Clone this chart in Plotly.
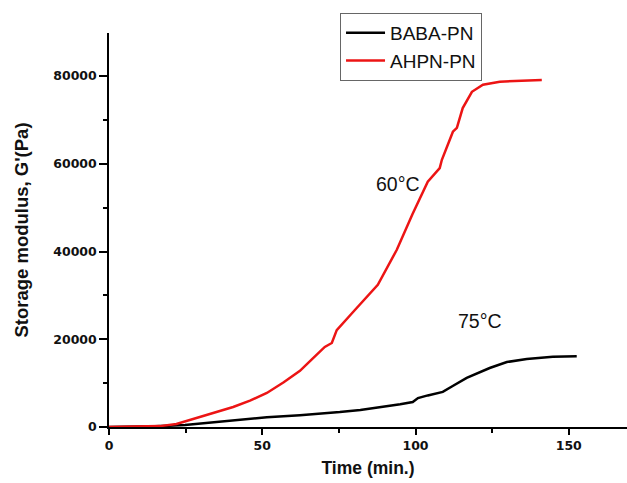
import plotly.graph_objects as go

# AHPN-PN (60°C)
ahpn_t = [0, 10, 16.6, 22, 29.7, 35, 40.5, 46, 51.5, 57, 62.3, 66, 70.4, 72.7, 74.3, 80, 87.7, 93.9, 99, 104, 107.9, 108.6, 109.6, 112.2, 113.5, 115.4, 118.4, 122, 127.5, 134, 141.2]
ahpn_g = [0, 50, 200, 700, 2280, 3300, 4560, 6000, 7750, 10200, 12800, 15300, 18240, 19150, 22100, 26500, 32400, 40400, 48500, 55900, 59000, 60900, 62700, 67300, 68200, 72700, 76400, 78000, 78700, 78900, 79100]

# BABA-PN (75°C)
baba_t = [0, 15, 24.8, 33, 40.5, 51.5, 62.3, 68.8, 75.3, 82, 89.3, 95, 99.1, 100.8, 104, 108.9, 112, 116.7, 124.2, 129.8, 136.3, 144.8, 152.6]
baba_g = [0, 150, 450, 1000, 1600, 2200, 2700, 3000, 3400, 3900, 4560, 5200, 5700, 6600, 7200, 8000, 9300, 11200, 13450, 14800, 15500, 16000, 16100]

x_ticks = [0, 50, 100, 150]
y_ticks = [0, 20000, 40000, 60000, 80000]

FONT = "Liberation Sans, Arial"
TICKFONT = "DejaVu Sans, Verdana"

fig = go.Figure()
fig.add_trace(go.Scatter(x=baba_t, y=baba_g, mode="lines", name="BABA-PN",
                         line=dict(color="black", width=2.5)))
fig.add_trace(go.Scatter(x=ahpn_t, y=ahpn_g, mode="lines", name="AHPN-PN",
                         line=dict(color="#ec1414", width=2.5)))

fig.add_annotation(x=94.2, y=55400, text="60°C", showarrow=False,
                   font=dict(family=FONT, size=19.5, color="#111"))
fig.add_annotation(x=121, y=24170, text="75°C", showarrow=False,
                   font=dict(family=FONT, size=19.5, color="#111"))

fig.update_layout(
    width=627, height=483,
    margin=dict(l=109, r=0, t=33, b=56),
    paper_bgcolor="white", plot_bgcolor="white",
    showlegend=True,
    legend=dict(x=0.446, y=1.051, xanchor="left", yanchor="top",
                bordercolor="#666", borderwidth=1, bgcolor="white",
                font=dict(family=FONT, size=19, color="#111"),
                tracegroupgap=0, itemwidth=39),
    xaxis=dict(range=[0, 169], tickvals=x_ticks, ticktext=[str(v) for v in x_ticks],
               showline=True, linecolor="black", linewidth=1.5,
               ticks="outside", ticklen=6, tickwidth=1.5, tickcolor="black",
               minor=dict(ticks="outside", ticklen=4, tickwidth=1.5, tickcolor="black", dtick=25, tick0=0),
               showgrid=False, zeroline=False,
               tickfont=dict(family=TICKFONT, size=12.5, color="#111", weight="bold"),
               title=dict(text="<b>Time (min.)</b>", font=dict(family=FONT, size=17.5, color="#111"), standoff=10)),
    yaxis=dict(range=[0, 89800], tickvals=y_ticks, ticktext=[str(v) for v in y_ticks],
               showline=True, linecolor="black", linewidth=1.5,
               ticks="outside", ticklen=8, tickwidth=1.5, tickcolor="black",
               minor=dict(ticks="outside", ticklen=4, tickwidth=1.5, tickcolor="black", dtick=10000, tick0=0),
               showgrid=False, zeroline=False,
               tickfont=dict(family=TICKFONT, size=12.5, color="#111", weight="bold"),
               title=dict(text="<b>Storage modulus, G'(Pa)</b>", font=dict(family=FONT, size=18.5, color="#111"), standoff=20)),
)

fig.write_html("out.html")
